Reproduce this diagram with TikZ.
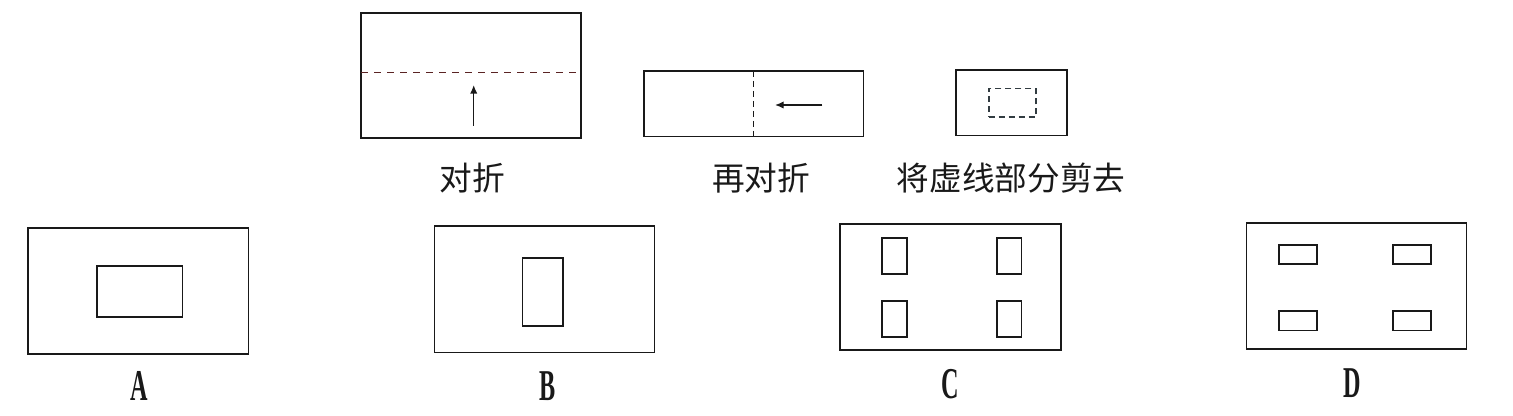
\documentclass[tikz,border=0pt]{standalone}
\usepackage{graphicx}
\usepackage{fontspec}
\setmainfont{Liberation Serif}
\newfontfamily\cjk{Noto Sans CJK SC}
\usetikzlibrary{arrows.meta}
\definecolor{ink}{RGB}{25,25,25}
\definecolor{foldred}{RGB}{90,35,35}
\definecolor{cutgrey}{RGB}{50,60,65}
\begin{document}
\begin{tikzpicture}[x=0.75pt,y=-0.75pt,
  box/.style 2 args={draw=ink, line width=1.25pt, inner sep=0pt, outer sep=0pt,
    minimum width=#1*0.75pt, minimum height=#2*0.75pt},
  dbox/.style 2 args={draw=cutgrey, line width=1.2pt, dash pattern=on 4.5pt off 3pt,
    inner sep=0pt, outer sep=0pt, minimum width=#1*0.75pt, minimum height=#2*0.75pt},
  fold/.style={line width=1.2pt},
  arr/.style={draw=ink, line width=1pt, -{Latex[length=6.5pt,width=5.5pt]}},
  cjklab/.style={font=\cjk\fontsize{24.5}{24.5}\selectfont, inner sep=0pt, text=ink},
  letlab/.style={font=\bfseries\fontsize{33}{33}\selectfont, inner sep=0pt, text=ink}]
\useasboundingbox[fill=white] (0,0) rectangle (1513,416);

% --- top row: folding steps
\node[box={220}{125}] (r1) at (471,75.2) {};
\draw[fold, draw=foldred, dash pattern=on 5.25pt off 4.5pt] (r1.west |- 0,72.7) coordinate (f1a) -- (r1.east |- 0,72.7) coordinate (f1b);
\coordinate (a1s) at (473.7,125.7);
\coordinate (a1e) at (473.7,85);
\draw[arr] (a1s) -- (a1e);

\node[box={219.3}{65.7}] (r2) at (753.7,103.8) {};
\draw[fold, draw=ink, dash pattern=on 4.5pt off 3pt] (753.3,0 |- r2.north) coordinate (f2a) -- (753.3,0 |- r2.south) coordinate (f2b);
\coordinate (a2s) at (822.3,105);
\coordinate (a2e) at (775,105);
\draw[arr] (a2s) -- (a2e);

\node[box={111}{65.7}] (r3) at (1011.5,102.8) {};
\node[dbox={47}{28.6}] (cut) at (1012.2,103) {};

\node[cjklab] (t1) at (472.5,178) {对折};
\node[cjklab] (t2) at (761,178) {再对折};
\node[cjklab] (t3) at (1011,178) {将虚线部分剪去};

% --- bottom row: options
\node[box={220.7}{126}] (oa) at (138.3,291.3) {};
\node[box={85.6}{51.6}] (oai) at (139.8,291.5) {};

\node[box={220.1}{126.3}] (ob) at (544.5,289.2) {};
\node[box={40.7}{67.4}] (obi) at (542.7,292) {};

\node[box={220.8}{126}] (oc) at (950.4,287) {};
\node[box={25}{36}] (oc1) at (894.5,256.3) {};
\node[box={24.7}{36}] (oc2) at (1009.2,256.3) {};
\node[box={25}{36.6}] (oc3) at (894.5,319) {};
\node[box={24.7}{36.6}] (oc4) at (1009.2,319) {};

\node[box={220.1}{126.3}] (od) at (1356.5,285.9) {};
\node[box={38.4}{19.3}] (od1) at (1297.9,254.4) {};
\node[box={38}{19.3}] (od2) at (1411.7,254.4) {};
\node[box={38.4}{19.3}] (od3) at (1297.9,320.7) {};
\node[box={38}{19.3}] (od4) at (1411.7,320.7) {};

\node[letlab] (la) at (139.3,386) {\scalebox{0.55}[1]{A}};
\node[letlab] (lb) at (548,386) {\scalebox{0.55}[1]{B}};
\node[letlab] (lc) at (950,384) {\scalebox{0.55}[1]{C}};
\node[letlab] (ld) at (1352.5,383) {\scalebox{0.55}[1]{D}};
\end{tikzpicture}
\end{document}
